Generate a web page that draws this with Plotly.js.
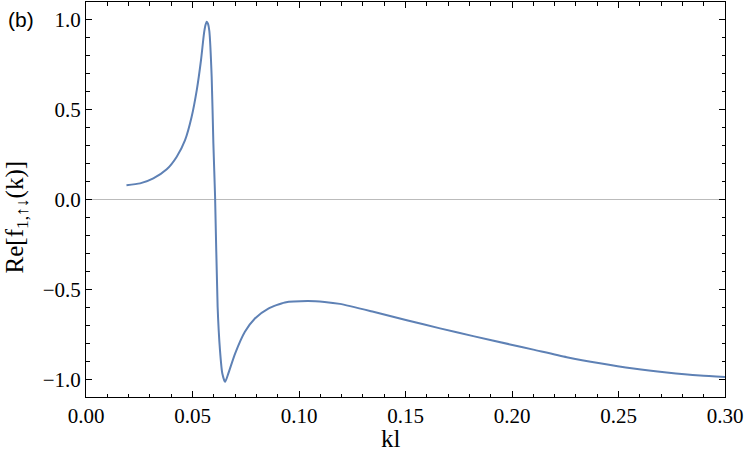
<!DOCTYPE html>
<html>
<head>
<meta charset="utf-8">
<script src="https://cdn.plot.ly/plotly-3.0.1.min.js"></script>
<style>html,body{margin:0;padding:0;background:#fff;}#chart{width:747px;height:453px;}</style>
</head>
<body>
<div id="chart"></div>
<script>
const kl = [0.0190,0.0254,0.0316,0.0379,0.0426,0.0465,0.0496,0.0520,0.0540,0.0554,0.0561,0.0567,0.0573,0.0579,0.0590,0.0598,0.0606,0.0618,0.0629,0.0640,0.0653,0.0668,0.0700,0.0746,0.0793,0.0856,0.0934,0.1040,0.1120,0.1192,0.1349,0.1506,0.1662,0.1818,0.1991,0.2100,0.2257,0.2413,0.2570,0.2726,0.2883,0.3000];
const reF = [0.079,0.089,0.117,0.167,0.237,0.329,0.459,0.607,0.774,0.922,0.968,0.987,0.975,0.935,0.681,0.311,0.015,-0.597,-0.837,-0.967,-1.013,-0.967,-0.856,-0.735,-0.661,-0.606,-0.572,-0.564,-0.569,-0.580,-0.624,-0.671,-0.716,-0.759,-0.805,-0.834,-0.876,-0.910,-0.939,-0.961,-0.978,-0.986];
const xTicks = [0.00,0.05,0.10,0.15,0.20,0.25,0.30];
const yTicks = [-1.0,-0.5,0.0,0.5,1.0];

const serif = 'Liberation Serif';
const tickFont = {family:serif, size:21, color:'#000'};
const titleFont = {family:serif, size:25, color:'#000'};
const trace = {x: kl, y: reF, type:'scatter', mode:'lines',
  line:{color:'#5E81B5', width:2, shape:'spline', smoothing:0.6}, hoverinfo:'skip'};

const layout = {
  width:747, height:453,
  margin:{l:86, r:22, t:2, b:56},
  paper_bgcolor:'#fff', plot_bgcolor:'#fff',
  showlegend:false,
  xaxis:{range:[0,0.30], tickvals:xTicks, tickformat:'.2f', ticks:'inside', ticklen:6, tickwidth:1, tickcolor:'#000',
    minor:{dtick:0.01, ticks:'inside', ticklen:3.5, tickwidth:1, tickcolor:'#000'},
    showline:true, linecolor:'#000', linewidth:1, mirror:'allticks', showgrid:false, zeroline:false,
    tickfont:tickFont},
  yaxis:{range:[-1.097,1.096], tickvals:yTicks, tickformat:'.1f', ticks:'inside', ticklen:6, tickwidth:1, tickcolor:'#000',
    minor:{dtick:0.1, ticks:'inside', ticklen:3.5, tickwidth:1, tickcolor:'#000'},
    showline:true, linecolor:'#000', linewidth:1, mirror:'allticks', showgrid:false,
    zeroline:true, zerolinecolor:'#bbbbbb', zerolinewidth:1,
    tickfont:tickFont},
  annotations:[
    {text:'(b)', xref:'paper', yref:'paper', x:-0.125, y:0.99, xanchor:'left', yanchor:'top', showarrow:false,
     font:{family:'Liberation Sans', size:21, color:'#000'}},
    {text:'kl', xref:'paper', yref:'paper', x:0.478, y:-0.143, xanchor:'center', yanchor:'bottom', showarrow:false,
     borderpad:0, font:titleFont},
    {text:'Re[f<sub>1,↑↓</sub>(k)]', xref:'paper', yref:'paper', x:-0.1345, y:0.456, xanchor:'left', yanchor:'middle',
     textangle:-90, showarrow:false, borderpad:0, font:titleFont}
  ]
};
Plotly.newPlot('chart', [trace], layout, {staticPlot:true, displayModeBar:false});
</script>
</body>
</html>
